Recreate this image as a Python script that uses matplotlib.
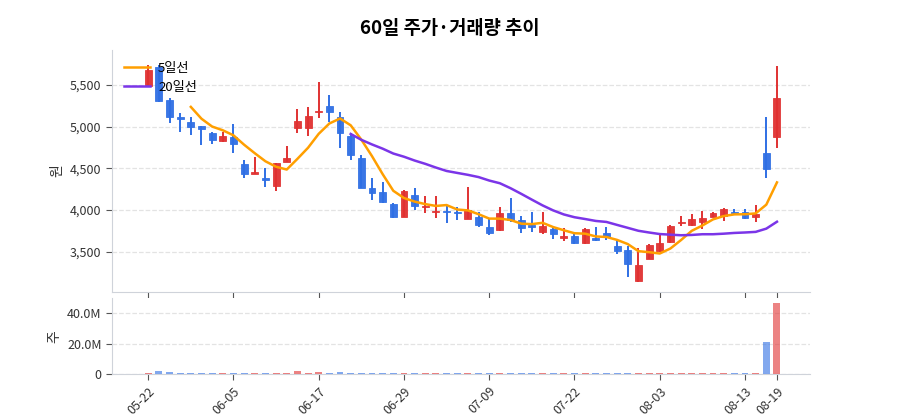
import numpy as np
import pandas as pd
import matplotlib
matplotlib.use("Agg")
import matplotlib.pyplot as plt

plt.rcParams['font.family'] = ['Noto Sans CJK KR', 'DejaVu Sans']

# 일봉 데이터 (60거래일)
opens = [5490, 5720, 5320, 5120, 5060, 5008, 4920, 4828, 4880, 4548,
         4432, 4380, 4292, 4580, 4988, 4988, 5172, 5248, 5120, 4888,
         4628, 4268, 4212, 4068, 3920, 4180, 4032, 3972, 3992, 3980,
         3892, 3920, 3800, 3760, 3968, 3880, 3820, 3740, 3768, 3668,
         3692, 3600, 3660, 3720, 3568, 3520, 3148, 3412, 3508, 3612,
         3840, 3820, 3852, 3920, 3932, 3980, 3980, 3912, 4688, 4872]
highs = [5740, 5740, 5340, 5160, 5120, 5010, 4940, 4932, 5028, 4600,
         4640, 4508, 4568, 4772, 5208, 5240, 5532, 5380, 5172, 4920,
         4660, 4388, 4332, 4088, 4240, 4260, 4168, 4168, 4048, 4040,
         4280, 3980, 3888, 4040, 4148, 3928, 3980, 3980, 3780, 3780,
         3740, 3780, 3792, 3800, 3632, 3568, 3540, 3588, 3720, 3820,
         3928, 3952, 3988, 3970, 4028, 4012, 4012, 4060, 5120, 5732]
lows = [5480, 5290, 5040, 4940, 4900, 4780, 4790, 4812, 4680, 4388,
        4432, 4280, 4228, 4572, 4928, 4888, 5100, 5060, 4748, 4600,
        4260, 4120, 4080, 3900, 3912, 4000, 3960, 3900, 3840, 3880,
        3888, 3800, 3700, 3752, 3860, 3728, 3740, 3708, 3648, 3628,
        3592, 3592, 3632, 3640, 3472, 3192, 3140, 3412, 3500, 3608,
        3812, 3812, 3768, 3915, 3872, 3952, 3888, 3860, 4380, 4740]
closes = [5680, 5310, 5112, 5090, 4992, 4970, 4840, 4888, 4788, 4428,
          4460, 4356, 4560, 4620, 5068, 5128, 5192, 5180, 4920, 4660,
          4268, 4200, 4100, 3920, 4228, 4052, 4048, 3992, 3972, 3960,
          4000, 3820, 3728, 3968, 3880, 3780, 3792, 3808, 3712, 3688,
          3600, 3768, 3640, 3680, 3512, 3352, 3340, 3580, 3600, 3812,
          3860, 3892, 3900, 3968, 4012, 3960, 3900, 3952, 4492, 5348]
# 거래량 (백만 주)
volumes_m = [1.1, 1.8, 1.5, 1.1, 1.1, 1.1, 0.9, 0.5, 1.1, 1.1,
             0.9, 0.9, 0.9, 0.5, 2.3, 0.9, 1.5, 0.9, 1.5, 0.9,
             0.9, 0.7, 0.7, 0.9, 0.5, 0.5, 0.5, 0.7, 0.6, 0.5,
             0.5, 0.9, 0.9, 0.5, 0.5, 0.5, 0.5, 0.5, 0.5, 0.5,
             0.5, 0.5, 0.5, 0.5, 0.5, 1.1, 0.9, 0.5, 0.5, 0.5,
             0.5, 0.5, 0.5, 0.5, 0.5, 0.5, 0.5, 0.5, 21.0, 47.0]

tick_idx = [0, 8, 16, 24, 32, 40, 48, 56, 59]
tick_labels = ['05-22', '06-05', '06-17', '06-29', '07-09', '07-22', '08-03', '08-13', '08-19']

RED = '#e03131'
BLUE = '#2f6fe4'
ORANGE = '#ff9f00'
PURPLE = '#7b35e8'
GRID = '#e3e3e3'
SPINE = '#cfd3da'

df = pd.DataFrame({'open': opens, 'high': highs, 'low': lows, 'close': closes,
                   'volume': np.array(volumes_m) * 1e6})
df['ma5'] = df['close'].rolling(5).mean()
df['ma20'] = df['close'].rolling(20).mean()
x = np.arange(len(df))
up = df['close'] >= df['open']
colors = np.where(up, RED, BLUE)

fig = plt.figure(figsize=(9, 4.2), dpi=100)
ax = fig.add_axes([0.1244, 0.305, 0.7756, 0.576])
axv = fig.add_axes([0.1244, 0.109, 0.7756, 0.181], sharex=ax)

# 캔들
ax.vlines(x, df['low'], df['high'], colors=colors, linewidth=1.4, zorder=2)
body_bottom = np.minimum(df['open'], df['close'])
body_h = np.maximum(np.abs(df['close'] - df['open']), 12)
ax.bar(x, body_h, bottom=body_bottom, width=0.65, color=colors, edgecolor=colors,
       linewidth=0.6, alpha=0.95, zorder=3)

ax.plot(x, df['ma5'], color=ORANGE, linewidth=1.8, label='5일선', zorder=4)
ax.plot(x, df['ma20'], color=PURPLE, linewidth=1.8, label='20일선', zorder=4)

ax.set_xlim(-3.4, 62.1)
ax.set_ylim(3016, 5920)
ax.set_yticks([3500, 4000, 4500, 5000, 5500])
ax.yaxis.set_major_formatter(matplotlib.ticker.FuncFormatter(lambda v, p: f'{v:,.0f}'))
ax.set_ylabel('원', fontsize=10, color='#333333')
ax.grid(axis='y', color=GRID, linestyle='--', linewidth=0.9)
ax.set_axisbelow(True)
ax.tick_params(axis='x', labelbottom=False, length=4, color='#555555')
ax.legend(loc='upper left', frameon=False, fontsize=9.5, handlelength=2.0,
          handletextpad=0.6, borderaxespad=0.5, labelspacing=0.45,
          bbox_to_anchor=(0.0, 1.0))

# 거래량
axv.bar(x, df['volume'], width=0.65, color=colors, alpha=0.6, zorder=3)
axv.set_ylim(0, 50e6)
axv.set_yticks([0, 20e6, 40e6])
axv.set_yticklabels(['0', '20.0M', '40.0M'])
axv.set_ylabel('주', fontsize=10, color='#333333')
axv.grid(axis='y', color=GRID, linestyle='--', linewidth=0.9)
axv.set_axisbelow(True)
axv.set_xticks(tick_idx)
axv.set_xticklabels(tick_labels, rotation=45, ha='right', rotation_mode='anchor')
axv.tick_params(axis='x', length=4, color='#555555')

for a in (ax, axv):
    for s in ('top', 'right'):
        a.spines[s].set_visible(False)
    for s in ('left', 'bottom'):
        a.spines[s].set_color(SPINE)
    a.tick_params(labelsize=9, labelcolor='#333333')
    a.tick_params(axis='y', length=4, color='#555555')

fig.suptitle('60일 주가·거래량 추이', fontsize=13.5, fontweight='bold', y=0.955)

fig.savefig('out.png', dpi=100)
